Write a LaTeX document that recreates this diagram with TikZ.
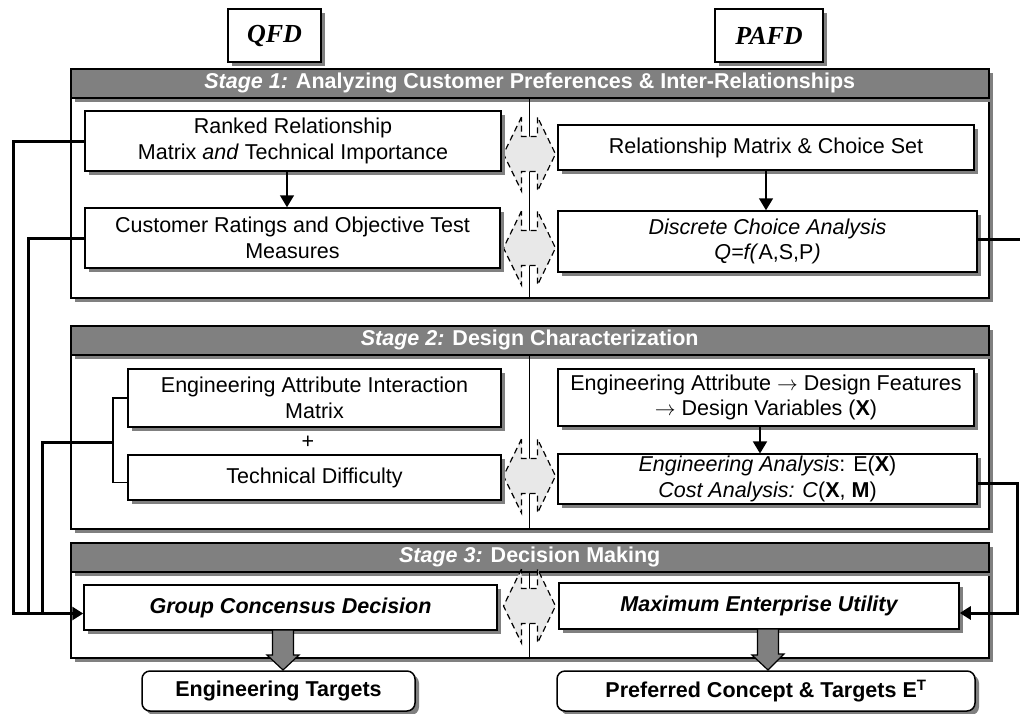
\documentclass[tikz,border=0pt]{standalone}
\usepackage{fontspec}
\setmainfont{Liberation Sans}
\newfontfamily\tnr{Liberation Serif}
\usetikzlibrary{shadows,arrows.meta,calc}
\newcommand\dblarr[1]{\draw[dbl] (#1) ++(-8,-37) -- ++(-18,37) -- ++(18,37) -- ++(0,-19.5) -- ++(16,0) -- ++(0,19.5) -- ++(18,-37) -- ++(-18,-37) -- ++(0,19.5) -- ++(-16,0) -- cycle;}
\newcommand\blkarr[2]{\draw[blk] (#1) -- ++(-16,-15) -- ++(5.5,0) -- (#2) -- ++(21,0) -- ++(0,25) -- ++(5.5,0) -- cycle;}
\begin{document}
\begin{tikzpicture}[x=1pt,y=-1pt,
  shd/.style={drop shadow={shadow xshift=4pt,shadow yshift=-4pt,fill=black!50,opacity=1}},
  txt/.style={font=\fontsize{21.5}{25.5}\selectfont},
  box/.style={draw,line width=1.5pt,fill=white,shd,inner sep=2pt,align=center,txt},
  frame/.style={draw,line width=2pt,fill=white,shd,anchor=north west,inner sep=0pt,minimum width=918pt},
  hdr/.style={draw,line width=1.5pt,fill=black!50,shd,text=white,anchor=north west,inner sep=0pt,minimum width=918pt,minimum height=29pt,font=\fontsize{21.5}{25}\selectfont\bfseries},
  conn/.style={line width=3pt},
  thinarr/.style={line width=1.5pt,-{Triangle[length=12pt,width=14pt]}},
  bigarr/.style={conn,-{Triangle[length=11pt,width=13pt]}},
  divl/.style={line width=1.3pt},
  dbl/.style={draw,dash pattern=on 6pt off 4pt,line width=1.2pt,fill=black!9},
  blk/.style={draw,line width=1.2pt,fill=black!50},
]
\useasboundingbox (0,0) rectangle (1020,713);

% top labels
\node[box,line width=2pt,font=\tnr\bfseries\itshape\fontsize{26}{30}\selectfont,minimum width=93pt,minimum height=53pt] (qfd) at (274.5,35.5) {QFD};
\node[box,line width=2pt,font=\tnr\bfseries\itshape\fontsize{26}{30}\selectfont,minimum width=108pt,minimum height=53pt] (pafd) at (769,35.5) {PAFD};

% frames and headers
\node[frame,minimum height=229pt] (f1) at (70,68) {};
\node[hdr] (h1) at (70,68) {{\itshape Stage 1:} Analyzing Customer Preferences \& Inter-Relationships};
\node[frame,minimum height=203pt] (f2) at (70,325) {};
\node[hdr] (h2) at (70,325) {{\itshape Stage 2:} Design Characterization};
\node[frame,minimum height=115pt] (f3) at (70,542) {};
\node[hdr] (h3) at (70,542) {{\itshape Stage 3:} Decision Making};

% divider coordinates and double arrows
\coordinate (d1) at (529.5,154);
\coordinate (d2) at (529.5,248);
\coordinate (d3) at (529.5,476);
\coordinate (d4) at (529.5,606);
\draw[divl] (h1.south -| d1) -- (f1.south -| d1);
\draw[divl] (h2.south -| d1) -- (f2.south -| d1);
\draw[divl] (h3.south -| d1) -- (f3.south -| d1);
\dblarr{d1}
\dblarr{d2}
\dblarr{d3}
\dblarr{d4}

% stage 1 boxes
\node[box,minimum width=416pt,minimum height=60pt] (rr) at (293,141) {Ranked Relationship\\Matrix \textit{and} Technical Importance};
\node[box,minimum width=415pt,minimum height=60pt] (cr) at (292.5,238) {Customer Ratings and Objective Test\\Measures};
\node[box,minimum width=416pt,minimum height=45pt] (rm) at (766,147.5) {Relationship Matrix \& Choice Set};
\node[box,minimum width=419pt,minimum height=61pt] (dc) at (767.5,241.5) {\textit{Discrete Choice Analysis}\\\textit{Q=f(}A,S,P\textit{)}};

% stage 2 boxes
\node[box,minimum width=373pt,minimum height=58pt] (eaim) at (314.5,398) {Engineering Attribute Interaction\\Matrix};
\node[txt] (plus) at (308,442) {+};
\node[box,minimum width=373pt,minimum height=45pt] (td) at (314.5,477.5) {Technical Difficulty};
\node[box,minimum width=416pt,minimum height=57pt] (ead) at (766,397.5) {Engineering Attribute $\rightarrow$ Design Features\\$\rightarrow$ Design Variables (\textbf{X})};
\node[box,minimum width=419pt,minimum height=48pt] (ea) at (767.5,479) {\textit{Engineering Analysis}: E(\textbf{X})\\\textit{Cost Analysis: C}(\textbf{X}, \textbf{M})};

% stage 3 boxes
\node[box,font=\fontsize{21.5}{25.5}\selectfont\bfseries\itshape,minimum width=413pt,minimum height=45pt] (gcd) at (290.5,607.5) {Group Concensus Decision};
\node[box,font=\fontsize{21.5}{25.5}\selectfont\bfseries\itshape,minimum width=400pt,minimum height=46pt] (meu) at (759,606) {Maximum Enterprise Utility};

% outputs
\node[box,rounded corners=8pt,font=\fontsize{21.5}{25.5}\selectfont\bfseries,minimum width=273pt,minimum height=40pt] (et) at (278.5,691) {Engineering Targets};
\node[box,rounded corners=8pt,font=\fontsize{21.5}{25.5}\selectfont\bfseries,minimum width=418pt,minimum height=40pt] (pc) at (766,691) {Preferred Concept \& Targets E\textsuperscript{T}};

% internal arrows
\draw[thinarr] ([xshift=-6pt]rr.south) -- ([xshift=-6pt]rr.south |- cr.north);
\draw[thinarr] (rm.south) -- (rm.south |- dc.north);
\draw[thinarr] ([xshift=-6pt]ead.south) -- ([xshift=-6pt]ead.south |- ea.north);

% bracket
\coordinate (brk) at (113,442);
\draw[divl] (eaim.west) -| (brk) |- ([yshift=-5pt]td.west);

% left feedback lines
\coordinate (inL) at ([yshift=-6pt]gcd.west);
\coordinate (jA) at (13,613.5);
\coordinate (jB) at (28,613.5);
\coordinate (jC) at (42,613.5);
\draw[conn] (cr.west) -| (jB);
\draw[conn] (brk) -| (jC);
\draw[bigarr] (rr.west) -| (jA) -- (inL);

% right lines
\coordinate (edgeR) at (1021,239);
\draw[conn] ([yshift=2pt]dc.east) -- ([yshift=2pt]dc.east -| edgeR);
\coordinate (inR) at ([yshift=-7pt]meu.east);
\coordinate (jR) at (1017,613);
\draw[bigarr] ([yshift=-4pt]ea.east) -| (jR) -- (inR);

% block arrows to outputs
\coordinate (t1) at (283,670);
\coordinate (s1) at (272.5,630);
\coordinate (t2) at (768,670);
\coordinate (s2) at (757.5,629);
\blkarr{t1}{s1}
\blkarr{t2}{s2}
\end{tikzpicture}
\end{document}
